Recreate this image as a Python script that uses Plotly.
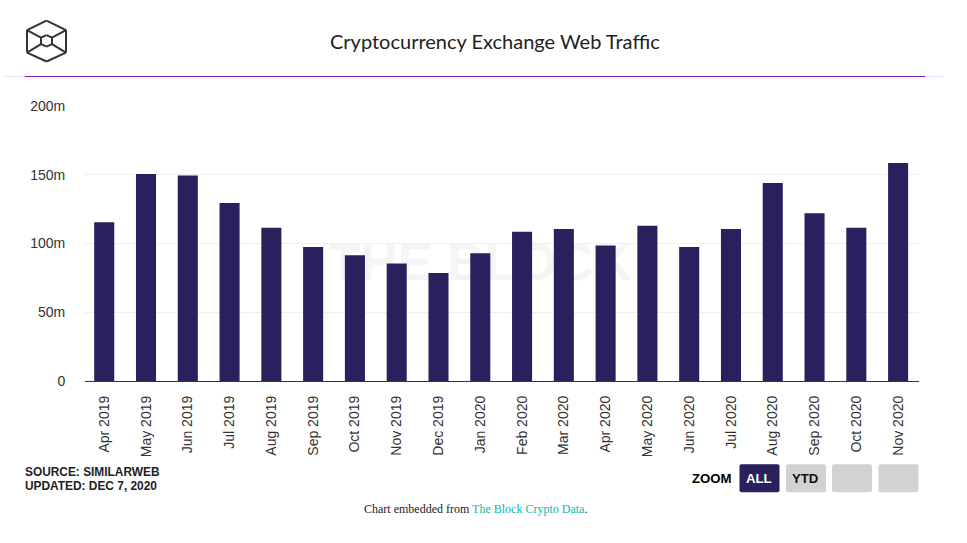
import plotly.graph_objects as go

W, H = 967, 543
months = ["Apr 2019","May 2019","Jun 2019","Jul 2019","Aug 2019","Sep 2019","Oct 2019","Nov 2019","Dec 2019","Jan 2020",
          "Feb 2020","Mar 2020","Apr 2020","May 2020","Jun 2020","Jul 2020","Aug 2020","Sep 2020","Oct 2020","Nov 2020"]
traffic = [115.5, 150.5, 149.5, 129.5, 111.5, 97.5, 91.5, 85.5, 78.5, 93, 108.5, 110.5, 98.5, 113, 97.5, 110.5, 144, 122, 111.5, 158.5]
y_ticks = [0, 50, 100, 150, 200]
y_labels = ["0", "50m", "100m", "150m", "200m"]
NAVY = "#2a205e"
L, R, T, B = 85, 919, 105.5, 380.7

def fx(x): return (x - L) / (R - L)
def fy(y): return (B - y) / (B - T)

fig = go.Figure()
# watermark sits on the base axes so the bars (on the overlaying axes) cover it
fig.add_trace(go.Scatter(x=[0.5], y=[0.5], xaxis="x2", yaxis="y2", mode="text", text=["<b>THE BLOCK</b>"],
                         textfont=dict(size=52, color="#f5f5f5", family="Liberation Sans"), hoverinfo="skip"))
fig.add_trace(go.Bar(x=months, y=traffic, marker=dict(color=NAVY, line=dict(width=0)), width=0.48))

shapes, ann = [], []
def line(x0, y0, x1, y1, color="#333333", w=2):
    shapes.append(dict(type="line", xref="paper", yref="paper", x0=fx(x0), y0=fy(y0), x1=fx(x1), y1=fy(y1),
                       line=dict(color=color, width=w)))
def text(x, y, s, size, color="#222222", family="Liberation Sans", anchor="left", **kw):
    ann.append(dict(text=s, x=fx(x), y=fy(y), xref="paper", yref="paper", xanchor=anchor, yanchor="middle",
                    showarrow=False, font=dict(size=size, color=color, family=family), **kw))

# logo
hexo = [(46.5,20),(66,29.5),(66,52),(46.5,61),(27,52),(27,29.5),(46.5,20)]
for a, b in zip(hexo, hexo[1:]):
    line(*a, *b)
inner = [(46.5,34.5),(52,37),(52,43.5),(46.5,46),(41,43.5),(41,37),(46.5,34.5)]
for a, b in zip(inner, inner[1:]):
    line(*a, *b)
for a, b in [((27,29.5),(41,37)),((66,29.5),(52,37)),((27,52),(41,43.5)),((66,52),(52,43.5))]:
    line(*a, *b)

# header rule
line(5, 76, 25, 76, "#eed9fb", 1)
line(25, 76, 925, 76, "#7b1fb8", 1)
line(925, 76, 943, 76, "#eed9fb", 1)

# zoom buttons
def button(x0, x1, color):
    shapes.append(dict(type="path", xref="paper", yref="paper", fillcolor=color, line=dict(width=0),
        path=f"M{fx(x0+2)},{fy(464)} L{fx(x1-2)},{fy(464)} Q{fx(x1)},{fy(464)} {fx(x1)},{fy(466)} L{fx(x1)},{fy(490)} "
             f"Q{fx(x1)},{fy(492)} {fx(x1-2)},{fy(492)} L{fx(x0+2)},{fy(492)} Q{fx(x0)},{fy(492)} {fx(x0)},{fy(490)} "
             f"L{fx(x0)},{fy(466)} Q{fx(x0)},{fy(464)} {fx(x0+2)},{fy(464)} Z"))
button(739.5, 779.5, NAVY)
for x0 in (786, 832, 878.5):
    button(x0, x0 + 40, "#d2d2d2")

text(495, 40.5, "Cryptocurrency Exchange Web Traffic", 20, "#222222", "Lato", "center")
text(23, 471.5, "<b>SOURCE: SIMILARWEB</b>", 11.9, "#222222")
text(23, 485.5, "<b>UPDATED: DEC 7, 2020</b>", 11.9, "#222222")
text(712, 478, "<b>ZOOM</b>", 13.2, "#000000", anchor="center")
text(759, 478, "<b>ALL</b>", 13.2, "#ffffff", anchor="center")
text(804.5, 478, "<b>YTD</b>", 13.2, "#111111", anchor="center")
text(475, 508.5, 'Chart embedded from <span style="color:#12b5ac">The Block Crypto Data</span>.', 12, "#222222",
     "Liberation Serif", "center")

fig.update_layout(
    width=W, height=H, autosize=False,
    margin=dict(l=L, r=W - R, t=T, b=H - B, pad=0),
    paper_bgcolor="white", plot_bgcolor="white", showlegend=False,
    shapes=shapes, annotations=ann,
    font=dict(family="Liberation Sans", color="#222222", size=13),
    xaxis=dict(type="category", categoryorder="array", categoryarray=months, range=[-0.46, 19.5], tickangle=-90, showgrid=False,
               linecolor="#333344", linewidth=1.3, ticks="outside", ticklen=8, tickcolor="rgba(0,0,0,0)",
               tickfont=dict(size=14, color="#333333", family="Liberation Sans"), automargin=False,
               overlaying="x2"),
    yaxis=dict(range=[0, 200], tickvals=y_ticks, ticktext=y_labels, gridcolor="#efeff2", gridwidth=1, zeroline=False,
               tickfont=dict(size=14, color="#333333", family="Liberation Sans"), ticks="outside", ticklen=16,
               tickcolor="rgba(0,0,0,0)", automargin=False, overlaying="y2"),
    xaxis2=dict(range=[0.026, 1.026], visible=False),
    yaxis2=dict(range=[0.085, 1.085], visible=False),
)
fig.write_html("out.html", config=dict(displayModeBar=False),
               post_script="document.body.style.margin='0';document.body.style.overflow='hidden';")
